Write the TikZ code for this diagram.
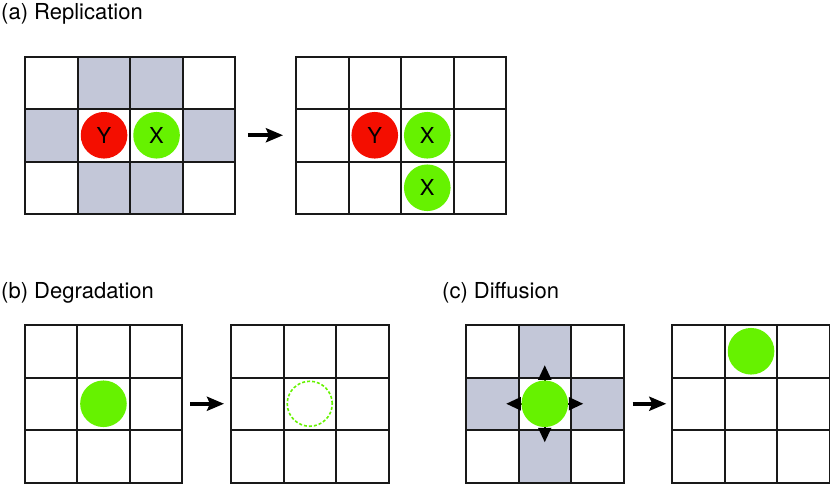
\documentclass[tikz,border=0pt]{standalone}
\usepackage{fontspec}
\setmainfont{TeX Gyre Heros}
\usetikzlibrary{arrows.meta}
\definecolor{cred}{RGB}{244,14,0}
\definecolor{cgreen}{RGB}{102,242,0}
\definecolor{cgray}{RGB}{195,199,216}
\def\s{52.5}
\newcommand\gridnode[5]{% name, x, y, cols, rows
  \node[inner sep=0pt, outer sep=0pt, minimum width=#4*\s*1pt, minimum height=#5*\s*1pt, anchor=north west] (#1) at (#2,#3) {};}
\newcommand\gridlines[3]{% name, cols, rows
  \foreach \i in {0,...,#2} \draw[gridline] ([xshift=\i*\s*1pt]#1.north west) -- ([xshift=\i*\s*1pt]#1.south west);
  \foreach \j in {0,...,#3} \draw[gridline] ([yshift=-\j*\s*1pt]#1.north west) -- ([yshift=-\j*\s*1pt]#1.north east);}
\newcommand\shadecell[3]{% name, col, row
  \fill[cgray] ([xshift=#2*\s*1pt, yshift=-#3*\s*1pt]#1.north west) rectangle ++(\s,\s);}
\newcommand\cellc[3]{([xshift=#2*\s*1pt+0.5*\s*1pt, yshift=-#3*\s*1pt-0.5*\s*1pt]#1.north west)}
\begin{document}
\begin{tikzpicture}[x=1pt,y=-1pt, font=\fontsize{22}{26}\selectfont,
  gridline/.style={line width=2pt, black!90, line cap=rect},
  dot/.style={circle, minimum size=46.6pt, inner sep=0pt},
  bigarrow/.style={line width=4pt, -{Stealth[length=17pt,width=14pt,inset=3pt]}},
  diffarrow/.style={line width=2pt, -{Triangle[length=14.5pt,width=13pt]}},
  title/.style={anchor=base west, inner sep=0pt}]
\useasboundingbox (0,0) rectangle (830,483);

% grids
\gridnode{a1}{25.3}{56.5}{4}{3}
\gridnode{a2}{296}{56.5}{4}{3}
\gridnode{b1}{24.7}{325}{3}{3}
\gridnode{b2}{231}{325}{3}{3}
\gridnode{c1}{466}{325}{3}{3}
\gridnode{c2}{672.3}{325}{3}{3}

% shaded cells
\shadecell{a1}{1}{0}\shadecell{a1}{2}{0}
\shadecell{a1}{0}{1}\shadecell{a1}{3}{1}
\shadecell{a1}{1}{2}\shadecell{a1}{2}{2}
\shadecell{c1}{1}{0}\shadecell{c1}{0}{1}
\shadecell{c1}{2}{1}\shadecell{c1}{1}{2}

\gridlines{a1}{4}{3}
\gridlines{a2}{4}{3}
\gridlines{b1}{3}{3}
\gridlines{b2}{3}{3}
\gridlines{c1}{3}{3}
\gridlines{c2}{3}{3}

% titles
\node[title] (ta) at (1,19) {(a) Replication};
\node[title] (tb) at (1,298) {(b) Degradation};
\node[title] (tc) at (442,298) {(c) Diffusion};

% (a) molecules
\node[dot, fill=cred] (ya) at \cellc{a1}{1}{1} {Y};
\node[dot, fill=cgreen] (xa) at \cellc{a1}{2}{1} {X};
\node[dot, fill=cred] (yb) at \cellc{a2}{1}{1} {Y};
\node[dot, fill=cgreen] (xb) at \cellc{a2}{2}{1} {X};
\node[dot, fill=cgreen] (xc) at \cellc{a2}{2}{2} {X};

% (b) molecules
\node[dot, fill=cgreen] (db) at \cellc{b1}{1}{1} {};
\node[dot, draw=cgreen, line width=1.6pt, dash pattern=on 3pt off 2pt, minimum size=45pt] (dd) at \cellc{b2}{1}{1} {};

% (c) molecules
\coordinate (dc) at (c1.center);
\draw[diffarrow] (dc) -- ([yshift=38.5pt]dc);
\draw[diffarrow] (dc) -- ([yshift=-38.5pt]dc);
\draw[diffarrow] (dc) -- ([xshift=-38.5pt]dc);
\draw[diffarrow] (dc) -- ([xshift=38.5pt]dc);
\node[dot, fill=cgreen] (mc) at (dc) {};
\node[dot, fill=cgreen] (me) at \cellc{c2}{1}{0} {};

% transition arrows
\draw[bigarrow] ([xshift=12.5pt]a1.east) -- ([xshift=-13pt]a2.west);
\draw[bigarrow] ([xshift=8pt]b1.east) -- ([xshift=-7pt]b2.west);
\draw[bigarrow] ([xshift=9pt]c1.east) -- ([xshift=-6pt]c2.west);
\end{tikzpicture}
\end{document}
